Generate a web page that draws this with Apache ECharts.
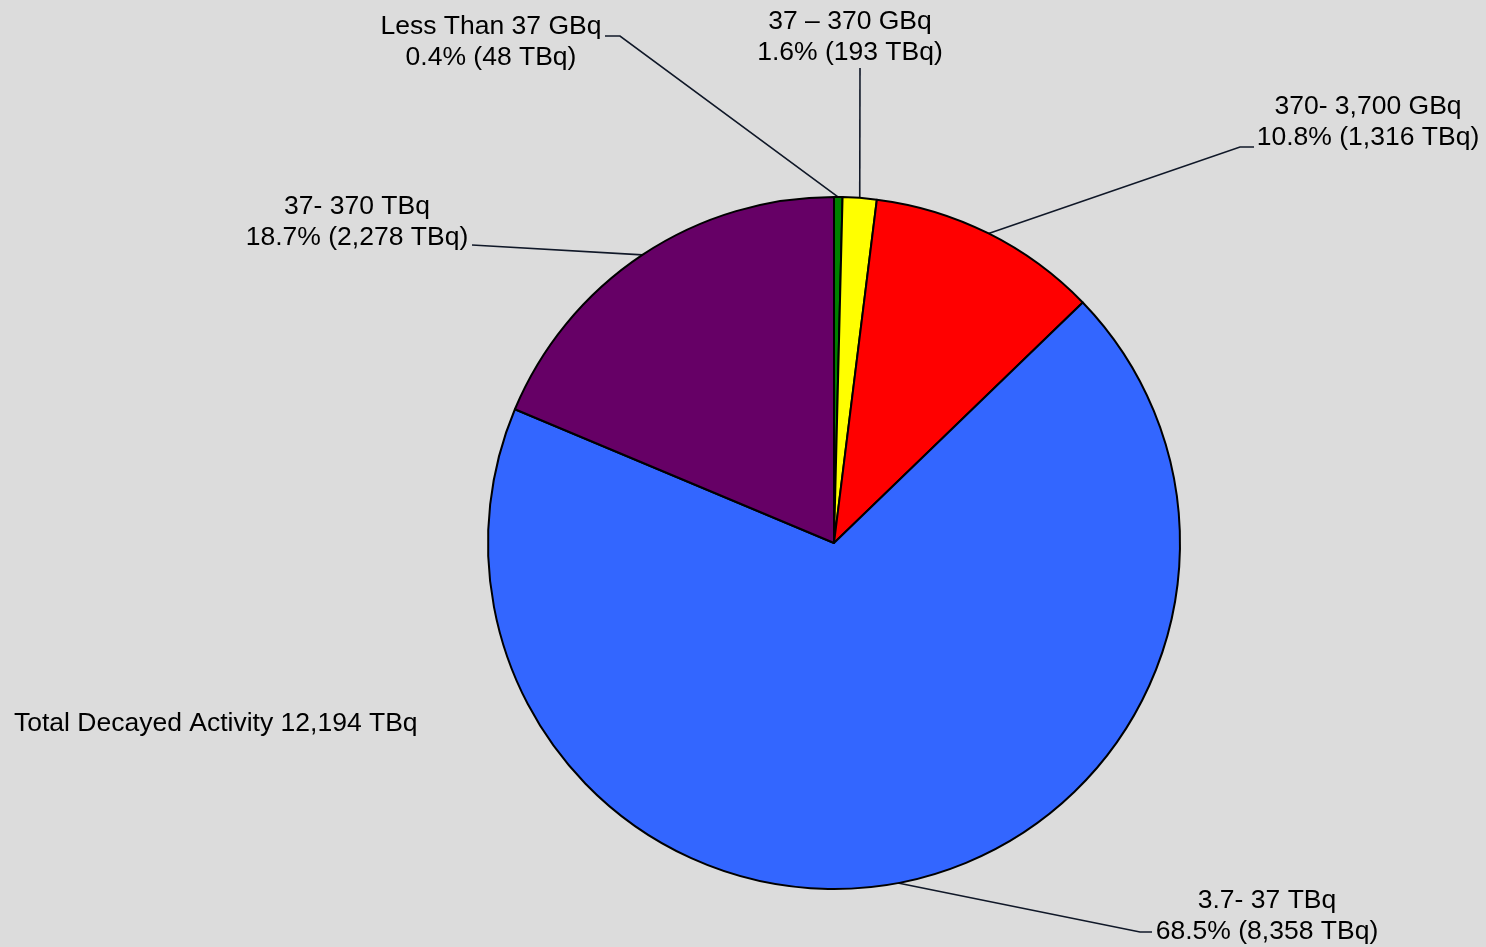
<!DOCTYPE html>
<html>
<head>
<meta charset="utf-8">
<script src="https://cdn.jsdelivr.net/npm/echarts@6/dist/echarts.min.js"></script>
<style>
html,body{margin:0;padding:0;background:#dcdcdc;}
#chart{width:1486px;height:947px;}
</style>
</head>
<body>
<div id="chart"></div>
<script>
const categories = ['Less Than 37 GBq', '37 \u2013 370 GBq', '370- 3,700 GBq', '3.7- 37 TBq', '37- 370 TBq'];
const valuesTBq = [48, 193, 1316, 8358, 2278];
const sliceColors = ['#008000', '#ffff00', '#ff0000', '#3366ff', '#660066'];
const totalText = 'Total Decayed Activity 12,194 TBq';

// label placement (layout, not data)
const labelLayouts = [
  { x: 491, y: 42, line: [[620, 36], [605, 36]] },
  { x: 850, y: 37, line: [[860, 68]] },
  { x: 1368, y: 122, line: [[1240, 147], [1254, 147]] },
  { x: 1267, y: 916, line: [[1140, 932], [1152, 932]] },
  { x: 357, y: 222, line: [[472, 245]] }
];

const chart = echarts.init(document.getElementById('chart'), null, { renderer: 'canvas' });
const data = categories.map((c, i) => ({ name: c, value: valuesTBq[i], itemStyle: { color: sliceColors[i] } }));

chart.setOption({
  backgroundColor: '#dcdcdc',
  animation: false,
  title: {
    text: totalText,
    left: 9,
    top: 705,
    textStyle: { fontFamily: 'Liberation Sans', fontSize: 26.5, fontWeight: 'normal', color: '#000' }
  },
  series: [{
    type: 'pie',
    center: [834, 543],
    radius: [0, 346],
    startAngle: 90,
    clockwise: true,
    percentPrecision: 1,
    data: data,
    itemStyle: { borderColor: '#000', borderWidth: 2 },
    label: {
      show: true,
      fontFamily: 'Liberation Sans',
      fontSize: 26.5,
      lineHeight: 31,
      color: '#000',
      align: 'center',
      formatter: p => p.name + '\n' + p.percent.toFixed(1) + '% (' + p.value.toLocaleString('en-US') + ' TBq)'
    },
    labelLine: { show: true, lineStyle: { color: '#101828', width: 1.6 }, length: 10, length2: 10 },
    labelLayout: function (params) {
      const L = labelLayouts[params.dataIndex];
      const start = params.labelLinePoints ? params.labelLinePoints[0] : null;
      const pts = start ? [start].concat(L.line) : L.line;
      return {
        x: L.x, y: L.y, align: 'center', verticalAlign: 'middle',
        labelLinePoints: pts
      };
    },
    emphasis: { disabled: true }
  }]
});
</script>
</body>
</html>
